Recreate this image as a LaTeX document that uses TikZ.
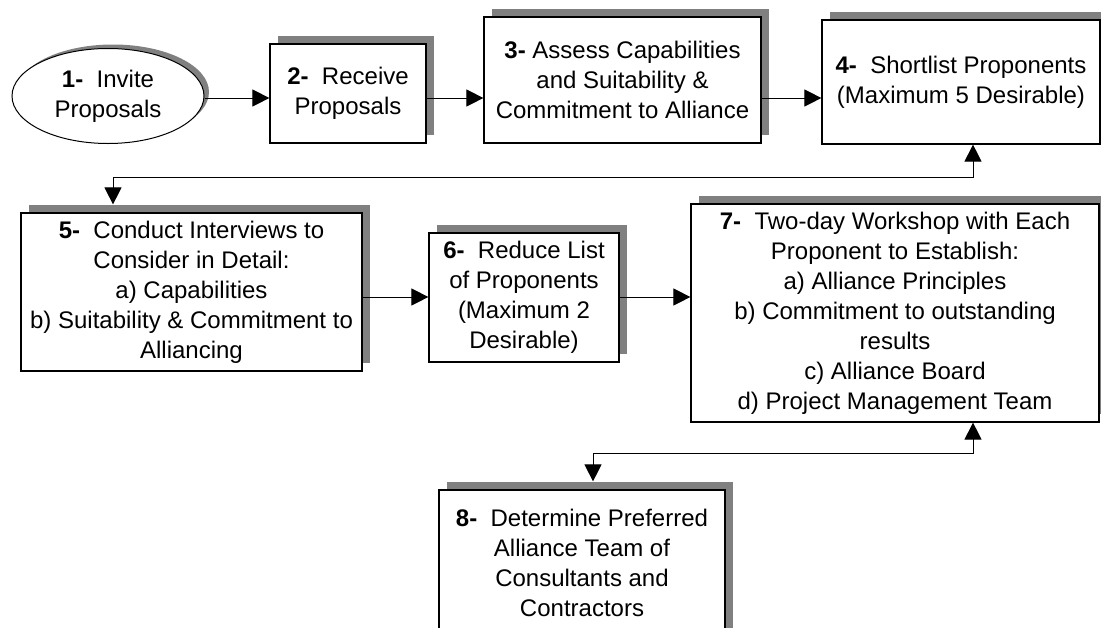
\documentclass[tikz,border=0pt]{standalone}
\usepackage{fontspec}
\setmainfont{Liberation Sans}
\usepackage{tikz}
\usetikzlibrary{shapes.geometric, arrows.meta, shadows}
\newcommand{\numFase}[1]{\textbf{#1-}~ }

\begin{document}
\begin{tikzpicture}[x = 0.5pt, y = -0.5pt,
    testo/.style = {draw, line width = 0.6pt, fill = white, inner sep = 0pt, align = center, font = \fontsize{12}{15}\selectfont},
    misure/.style 2 args = {minimum width = #1*0.5pt, minimum height = #2*0.5pt},
    fase/.style = {testo, rectangle, drop shadow = {shadow xshift = 4pt, shadow yshift = 4pt, fill = gray, opacity = 1}},
    faseOvale/.style = {testo, ellipse, line width = 0.5pt, drop shadow = {shadow xshift = 2.5pt, shadow yshift = 2pt, fill = gray, opacity = 1}},
    freccia/.style = {line width = 0.5pt, -{Triangle[length = 8.5pt, width = 8.5pt]}},
    frecciaDoppia/.style = {line width = 0.5pt, {Triangle[length = 8.5pt, width = 8.5pt]}-{Triangle[length = 8.5pt, width = 8.5pt]}}]
    \useasboundingbox (0,0) rectangle (1101,627);
    % Prima riga
    \node[faseOvale, misure = {192}{95}] (n1) at (108,96) {\numFase{1}Invite\\Proposals};
    \node[fase, misure = {156}{99}] (n2) at (348,93.5) {\numFase{2}Receive\\Proposals};
    \node[fase, misure = {277}{126}] (n3) at (622.5,80) {\textbf{3-} Assess Capabilities\\and Suitability \&\\Commitment to Alliance};
    \node[fase, misure = {278}{124}] (n4) at (961,82) {\numFase{4}Shortlist Proponents\\(Maximum 5 Desirable)};
    % Seconda riga
    \node[fase, misure = {341}{158}] (n5) at (191.5,292) {\numFase{5}Conduct Interviews to\\Consider in Detail:\\a) Capabilities\\b) Suitability \& Commitment to\\Alliancing};
    \node[fase, misure = {190}{129}] (n6) at (524,297.5) {\numFase{6}Reduce List\\of Proponents\\(Maximum 2\\Desirable)};
    \node[fase, misure = {408}{218}] (n7) at (895,313) {\numFase{7}Two-day Workshop with Each\\Proponent to Establish:\\a) Alliance Principles\\b) Commitment to outstanding\\results\\c) Alliance Board\\d) Project Management Team};
    % Ultima fase
    \node[fase, misure = {286}{146}] (n8) at (582,563) {\numFase{8}Determine Preferred\\Alliance Team of\\Consultants and\\Contractors};
    % Punti dei collegamenti
    \coordinate (r1) at (0,98);
    \coordinate (r2) at (0,297);
    \coordinate (g1) at (973,177);
    \coordinate (g2) at (113,177);
    \coordinate (g3) at (973,453);
    \coordinate (g4) at (593,453);
    \coordinate (s5) at ([yshift = 4pt]n5.north);
    \coordinate (s8) at ([yshift = 4pt]n8.north);
    % Frecce
    \draw[freccia] (n1.east |- r1) -- (n2.west |- r1);
    \draw[freccia] (n2.east |- r1) -- (n3.west |- r1);
    \draw[freccia] (n3.east |- r1) -- (n4.west |- r1);
    \draw[frecciaDoppia] (n4.south -| g1) -- (g1) -- (g2) -- (s5 -| g2);
    \draw[freccia] (n5.east |- r2) -- (n6.west |- r2);
    \draw[freccia] (n6.east |- r2) -- (n7.west |- r2);
    \draw[frecciaDoppia] (n7.south -| g3) -- (g3) -- (g4) -- (s8 -| g4);
\end{tikzpicture}
\end{document}
